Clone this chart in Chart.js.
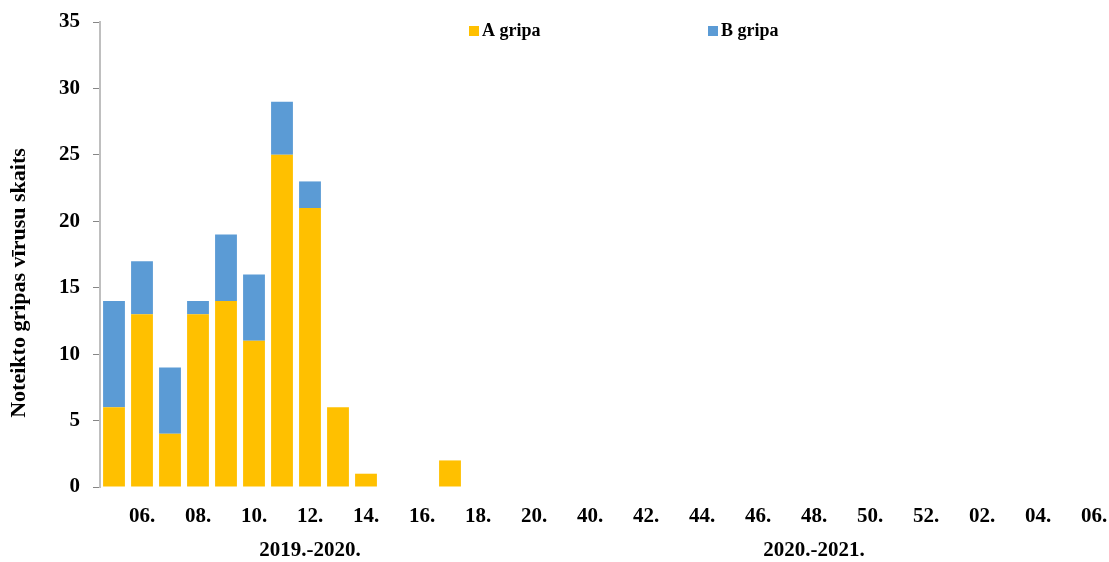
<!DOCTYPE html>
<html>
<head>
<meta charset="utf-8">
<script src="https://cdn.jsdelivr.net/npm/chart.js@4.4.1/dist/chart.umd.min.js"></script>
<style>
  html, body { margin: 0; padding: 0; background: #fff; }
  #wrap { width: 1109px; height: 562px; }
</style>
</head>
<body>
<div id="wrap"><canvas id="chart"></canvas></div>
<script>
// Nedēļas (2019.-2020. un 2020.-2021. sezona)
var weeks = ['05.', '06.', '07.', '08.', '09.', '10.', '11.', '12.', '13.', '14.', '15.', '16.', '17.', '18.', '19.', '20.',
             '39.', '40.', '41.', '42.', '43.', '44.', '45.', '46.', '47.', '48.', '49.', '50.', '51.', '52.',
             '01.', '02.', '03.', '04.', '05.', '06.'];
var gripaA = [6, 13, 4, 13, 14, 11, 25, 21, 6, 1, 0, 0, 2, 0, 0, 0,
              0, 0, 0, 0, 0, 0, 0, 0, 0, 0, 0, 0, 0, 0,
              0, 0, 0, 0, 0, 0];
var gripaB = [8, 4, 5, 1, 5, 5, 4, 2, 0, 0, 0, 0, 0, 0, 0, 0,
              0, 0, 0, 0, 0, 0, 0, 0, 0, 0, 0, 0, 0, 0,
              0, 0, 0, 0, 0, 0];
var seasons = ['2019.-2020.', '2020.-2021.'];
var seasonIndex = [7, 25];
var yTicks = [0, 5, 10, 15, 20, 25, 30, 35];

var FONT = '"Liberation Serif", "Times New Roman", serif';
var colA = '#FFC000';
var colB = '#5B9BD5';

// Leģenda, sezonas un ass nosaukums
var extras = {
    id: 'extras',
    afterDraw: function(chart) {
        var ctx = chart.ctx;
        var xs = chart.scales.x;
        ctx.save();
        ctx.fillStyle = '#000';
        ctx.textBaseline = 'middle';

        // leģenda
        var items = [[colA, 'A gripa', 469], [colB, 'B gripa', 708]];
        ctx.font = 'bold 18px ' + FONT;
        items.forEach(function(it) {
            ctx.fillStyle = it[0];
            ctx.fillRect(it[2], 26, 10, 10);
            ctx.fillStyle = '#000';
            ctx.textAlign = 'left';
            ctx.fillText(it[1], it[2] + 13, 31);
        });

        // sezonas
        ctx.font = 'bold 21px ' + FONT;
        ctx.textAlign = 'center';
        seasons.forEach(function(s, i) {
            ctx.fillText(s, xs.getPixelForValue(seasonIndex[i]), 551);
        });

        // y ass nosaukums
        ctx.translate(19, 283);
        ctx.rotate(-Math.PI / 2);
        ctx.font = 'bold 22px ' + FONT;
        ctx.fillText('Noteikto gripas vīrusu skaits', 0, 0);
        ctx.restore();
    }
};

var ctx = document.getElementById('chart').getContext('2d');
var chart = new Chart(ctx, {
    type: 'bar',
    data: {
        labels: weeks,
        datasets: [{
            label: 'A gripa',
            data: gripaA,
            backgroundColor: colA,
            borderWidth: 0
        }, {
            label: 'B gripa',
            data: gripaB,
            backgroundColor: colB,
            borderWidth: 0
        }]
    },
    options: {
        responsive: true,
        maintainAspectRatio: false,
        animation: false,
        layout: { padding: { top: 22, right: 1, left: 0, bottom: 0 } },
        datasets: { bar: { barPercentage: 0.78, categoryPercentage: 1 } },
        plugins: {
            legend: { display: false },
            tooltip: { enabled: false }
        },
        scales: {
            x: {
                stacked: true,
                grid: { display: false },
                border: { display: false },
                afterFit: function(s) {
                    s.height = 75;
                    s.paddingLeft = 0;
                    s.paddingRight = 0;
                },
                ticks: {
                    autoSkip: false,
                    maxRotation: 0,
                    padding: 9,
                    color: '#000',
                    font: { family: FONT, size: 21, weight: 'bold' },
                    callback: function(v, i) { return i % 2 === 1 ? weeks[i] : ''; }
                }
            },
            y: {
                stacked: true,
                min: 0,
                max: 35,
                afterFit: function(s) {
                    s.width = 100;
                    s.paddingTop = 0;
                    s.paddingBottom = 0;
                },
                afterBuildTicks: function(s) {
                    s.ticks = yTicks.map(function(v) { return { value: v }; });
                },
                grid: {
                    drawOnChartArea: false,
                    tickLength: 7,
                    color: '#868686'
                },
                border: { color: '#BFBFBF', width: 2 },
                ticks: {
                    padding: 13,
                    color: '#000',
                    font: { family: FONT, size: 21, weight: 'bold' }
                }
            }
        }
    },
    plugins: [extras]
});
</script>
</body>
</html>
